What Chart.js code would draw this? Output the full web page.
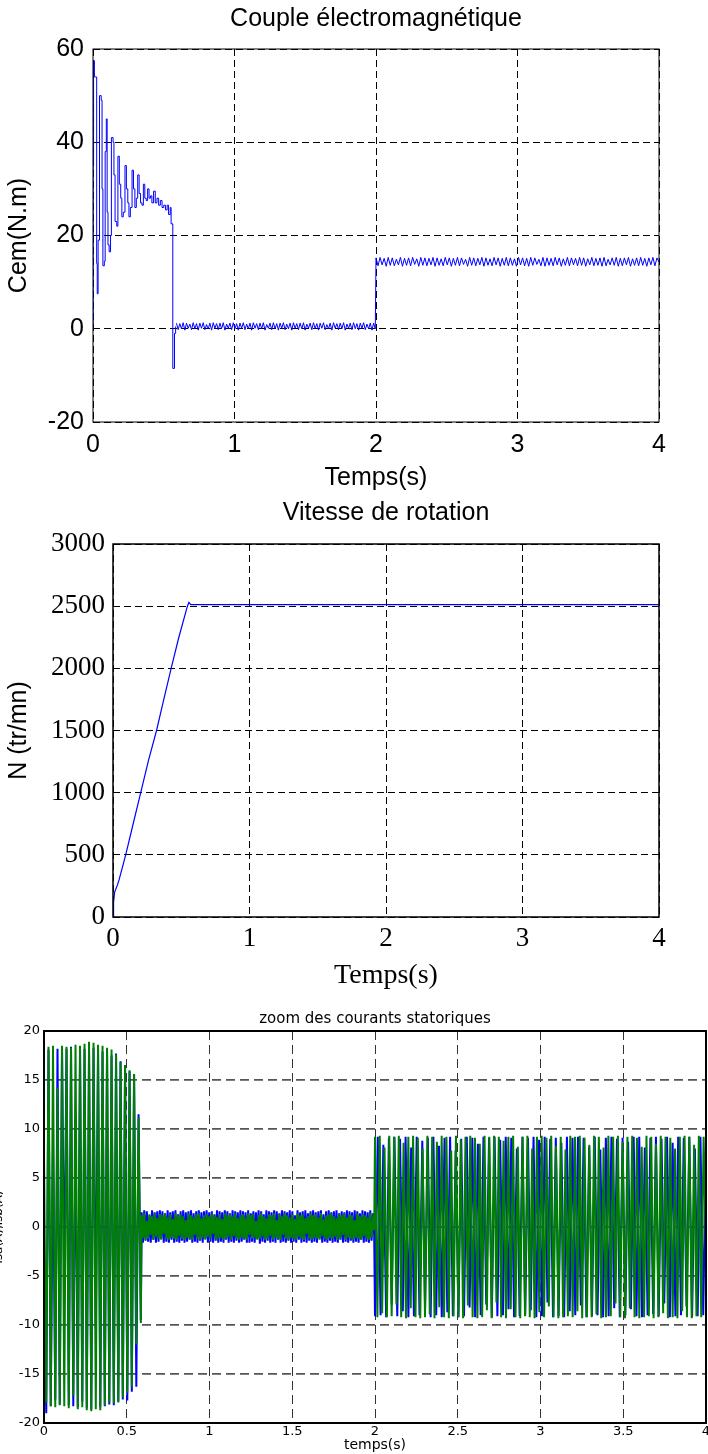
<!DOCTYPE html>
<html>
<head>
<meta charset="utf-8">
<script src="https://cdn.jsdelivr.net/npm/chart.js@4.4.0/dist/chart.umd.min.js"></script>
<style>
  body { margin: 0; background: #fff; width: 708px; height: 1454px; overflow: hidden; position: relative; }
  canvas { position: absolute; left: 0; }
</style>
</head>
<body>
<canvas id="couple" width="708" height="495" style="top:0"></canvas>
<canvas id="vitesse" width="708" height="500" style="top:495px"></canvas>
<canvas id="courants" width="708" height="459" style="top:995px"></canvas>
<script>
// ---- Couple electromagnetique (N.m) ----
const cemTime = [0, 0.001, 0.004, 0.01, 0.026, 0.03, 0.036, 0.046, 0.058, 0.064, 0.07, 0.08, 0.086, 0.094, 0.1, 0.106,
  0.114, 0.124, 0.13, 0.142, 0.148, 0.156, 0.168, 0.176, 0.186, 0.196, 0.204, 0.214, 0.226, 0.236, 0.246, 0.254,
  0.264, 0.276, 0.286, 0.296, 0.306, 0.316, 0.326, 0.336, 0.346, 0.356, 0.366, 0.376, 0.386, 0.396, 0.406, 0.416,
  0.428, 0.44, 0.452, 0.464, 0.476, 0.488, 0.5, 0.512, 0.524, 0.534, 0.546, 0.552, 0.564, 0.576, 0.584];
const cemValue = [0, 35, 57.5, 54, 14, 7.5, 19, 50, 49, 30, 13.5, 14.5, 38, 45, 25, 18,
  16.5, 20, 41, 40, 33, 23, 22, 37, 31, 28, 24, 25, 35, 30, 27, 24,
  26, 34, 30, 26, 28, 33, 29, 27, 26.5, 31, 28, 27.5, 30, 28, 28.5, 27,
  29.5, 27, 28, 26.5, 27.5, 26, 26.5, 25.5, 26.5, 24.5, 26, 22.5, -8.5, -1, 0.5];
// ripple after the speed is reached (0.59 -> 2 s), then with the load (2 -> 4 s)
const cemRipple1 = [1.2, -0.2, 1.1, 0.0, 1.3, -0.3, 1.2, 0.1, 1.0, -0.2, 1.3, 0.0, 1.1, -0.3, 1.2, 0.1, 1.3, -0.2, 0.9, 0.0,
  1.2, -0.3, 1.3, 0.1, 1.1, -0.2, 1.2, 0.0, 1.3, -0.3, 1.0, 0.1, 1.2, -0.2, 1.3, 0.0, 1.1, -0.3, 1.2, 0.1,
  1.3, -0.2, 1.0, 0.0, 1.2, -0.3, 1.3, 0.1, 1.1, -0.2, 1.2, 0.0, 1.3, -0.3, 0.9, 0.1, 1.2, -0.2, 1.3, 0.0,
  1.1, -0.3, 1.2, 0.1, 1.3, -0.2, 1.0, 0.0, 1.2, -0.3, 1.3, 0.1, 1.1, -0.2, 1.2, 0.0, 1.3, -0.3, 1.0, 0.1,
  1.2, -0.2, 1.3, 0.0, 1.1, -0.3, 1.2, 0.1, 1.3, -0.2, 0.9, 0.0, 1.2, -0.3, 1.3, 0.1, 1.1, -0.2, 1.2, 0.0,
  1.3, -0.3, 1.0, 0.1, 1.2, -0.2, 1.3, 0.0, 1.1, -0.3, 1.2, 0.1, 1.3, -0.2, 1.0, 0.0, 1.2, -0.3, 1.2, 0.0];
const cemRipple2 = [15.2, 13.5, 15.3, 13.7, 15.1, 13.4, 15.3, 13.6, 15.2, 13.5, 14.9, 13.7, 15.3, 13.4, 15.1, 13.6, 15.2, 13.5, 15.3, 13.8,
  15.0, 13.4, 15.3, 13.6, 15.2, 13.5, 15.1, 13.7, 15.3, 13.4, 15.2, 13.6, 15.0, 13.5, 15.3, 13.7, 15.2, 13.4, 15.1, 13.6,
  15.3, 13.5, 15.2, 13.8, 14.9, 13.4, 15.3, 13.6, 15.2, 13.5, 15.1, 13.7, 15.3, 13.4, 15.2, 13.6, 15.0, 13.5, 15.3, 13.7,
  15.2, 13.4, 15.1, 13.6, 15.3, 13.5, 15.2, 13.6, 15.0, 13.4, 15.3, 13.7, 15.2, 13.5, 15.1, 13.4, 15.3, 13.6, 15.2, 13.8,
  14.9, 13.5, 15.3, 13.4, 15.2, 13.6, 15.1, 13.5, 15.3, 13.7, 15.2, 13.4, 15.0, 13.6, 15.3, 13.5, 15.2, 13.7, 15.1, 13.5,
  15.3, 13.6, 15.2, 13.4, 15.0, 13.7, 15.3, 13.5, 15.1, 13.6, 15.2, 13.4, 15.3, 13.5, 14.9, 13.7, 15.2, 13.6, 15.3, 13.4,
  15.1, 13.5, 15.2, 13.7, 15.3, 13.4, 15.0, 13.6, 15.2, 13.5, 15.3, 13.6, 15.1, 13.4, 15.2, 13.7, 15.3, 13.5, 15.2, 14.3];
const cemRippleSpan1 = [0.59, 1.995];
const cemRippleSpan2 = [2.0, 4.0];
const cemTicksX = [0, 1, 2, 3, 4];
const cemTicksY = [-20, 0, 20, 40, 60];

// ---- Vitesse de rotation (tr/mn) ----
const speedTime = [0, 0.004, 0.012, 0.03, 0.045, 0.093, 0.15, 0.203, 0.26, 0.319, 0.37, 0.426, 0.48, 0.545, 0.556, 0.57, 4];
const speedValue = [0, 120, 200, 250, 300, 500, 760, 1000, 1260, 1500, 1740, 2000, 2240, 2500, 2530, 2512, 2512];
const speedTicksX = [0, 1, 2, 3, 4];
const speedTicksY = [0, 500, 1000, 1500, 2000, 2500, 3000];

// ---- Courants statoriques (A), three time segments ----
const segSpans = [[0, 0.585], [0.59, 1.995], [2.0, 4.0]];
const isaSegA = [-4, -19, 18.1, -18.3, 7.8, -17.6, 18.2, -18.1, 18.3, -6.4, 18.2, -18.2, 18.4, -18.3, 11.0, -18.4,
  18.3, -17.8, 18.2, -18.5, 17.9, -18.6, 18.3, -10.4, 18.2, -18.4, 17.9, -18.3, 18.2, -18.1, 17.5, -18.2,
  17.7, -17.8, 16.9, -17.6, 16.5, -17.7, 15.9, -16.8, 15.6, -16.3, 11.5, -9.5];
const isaSegB = [1.5, -1.6, 1.7, -1.4, 1.6, -1.5, 1.2, -1.6, 1.7, -1.3, 1.5, -1.6, 1.6, -1.5, 1.7, -1.2, 1.6, -1.6, 1.4, -1.5,
  1.7, -1.6, 1.5, -1.3, 1.6, -1.6, 1.7, -1.5, 1.3, -1.6, 1.6, -1.4, 1.7, -1.6, 1.5, -1.5, 1.6, -1.3, 1.7, -1.6,
  1.4, -1.5, 1.6, -1.6, 1.7, -1.4, 1.5, -1.6, 1.6, -1.2, 1.7, -1.6, 1.5, -1.5, 1.6, -1.6, 1.3, -1.4, 1.7, -1.6,
  1.6, -1.5, 1.5, -1.6, 1.7, -1.3, 1.6, -1.6, 1.4, -1.5, 1.7, -1.6, 1.6, -1.4, 1.5, -1.6, 1.7, -1.5, 1.6, -1.3,
  1.5, -1.6, 1.7, -1.6, 1.4, -1.5, 1.6, -1.6, 1.5, -1.2, 1.7, -1.7, 1.6, -1.5, 1.3, -1.6, 1.7, -1.4, 1.6, -1.6,
  1.5, -1.5, 1.7, -1.6, 1.6, -1.3, 1.4, -1.6, 1.7, -1.5, 1.6, -1.6, 1.5, -1.4, 1.7, -1.6, 1.6, -1.5, 1.2, -1.6,
  1.7, -1.3, 1.5, -1.6, 1.6, -1.5, 1.7, -1.6, 1.4, -1.4, 1.6, -1.6, 1.7, -1.5, 1.5, -1.6, 1.6, -1.2, 1.7, -1.6,
  1.3, -1.5, 1.6, -1.6, 1.7, -1.4, 1.5, -1.6, 1.6, -1.5, 1.7, -1.6, 1.4, -1.3, 1.6, -1.6, 1.5, -1.5, 1.7, -1.6,
  1.6, -1.4, 1.5, -1.6, 1.7, -1.5, 1.6, -1.6, 1.4, -1.3, 1.7, -1.6, 1.6, -1.5, 1.5, -1.6, 1.7, -1.4, 1.4, -0.8];
const isaSegC = [-9.1, 9.2, -9.0, 8.4, -9.2, 9.1, -7.9, 9.2, -9.1, 9.0, -8.6, 9.2, -9.2, 8.1, -9.1, 9.2, -9.0, 8.8, -8.2, 9.1,
  -9.2, 9.2, -9.0, 8.3, -9.2, 9.1, -8.7, 9.2, -9.1, 7.8, -9.2, 9.0, -9.1, 9.2, -8.2, 9.1, -9.2, 8.5, -9.0, 9.2,
  -7.9, 9.1, -9.2, 9.2, -9.1, 8.9, -9.0, 9.2, -8.4, 9.1, -9.2, 8.0, -9.1, 9.2, -9.0, 9.1, -8.5, 9.2, -9.2, 8.9,
  -9.1, 9.2, -7.7, 9.0, -9.2, 9.1, -9.1, 8.6, -9.2, 9.2, -8.6, 9.1, -9.0, 9.2, -8.0, 9.1, -9.2, 8.2, -9.1, 9.2,
  -9.0, 7.9, -9.2, 9.1, -9.1, 9.2, -8.3, 9.0, -9.2, 9.1, -9.0, 8.7, -8.4, 9.2, -9.1, 9.2, -9.2, 8.1, -9.0, 9.1,
  -8.9, 9.2, -9.1, 9.0, -7.8, 9.2, -9.2, 8.6, -9.1, 9.2, -9.0, 9.1, -8.1, 9.2, -9.2, 8.0, -9.1, 9.2, -9.0, 8.4];
const isbSegA = [7.5, -17.9, 18.4, -18.3, 18.5, -18.4, 14.2, -18.2, 18.5, -18.3, 18.4, -18.5, 18.3, -17.2, 18.6, -18.6,
  18.5, -18.4, 18.7, -18.7, 18.9, -18.8, 18.8, -18.6, 18.6, -18.7, 18.5, -18.2, 18.3, -17.9, 18.1, -18.0,
  17.6, -17.9, 16.8, -17.4, 16.5, -16.9, 16.0, -16.3, 15.6, -12.0, 11.2, -9.8];
const isbSegB = [1.2, -1.1, 1.4, -1.3, 0.6, -1.2, 1.3, -0.8, 1.1, -1.3, 1.4, -1.0, 0.9, -1.2, 1.3, -1.3, 1.2, -0.7, 1.4, -1.2,
  1.0, -1.3, 1.3, -1.1, 0.8, -1.2, 1.4, -1.3, 1.2, -0.9, 1.3, -1.2, 1.1, -1.3, 0.7, -1.1, 1.4, -1.2, 1.2, -1.3,
  1.0, -0.8, 1.3, -1.2, 1.4, -1.3, 0.9, -1.1, 1.2, -1.3, 1.3, -1.0, 1.1, -1.2, 1.4, -0.7, 1.2, -1.3, 1.0, -1.2,
  1.3, -1.1, 0.8, -1.3, 1.4, -1.2, 1.2, -1.0, 1.3, -1.3, 1.1, -0.9, 1.4, -1.2, 0.9, -1.3, 1.2, -1.1, 1.3, -1.2,
  1.0, -1.3, 1.4, -0.8, 1.2, -1.2, 1.3, -1.1, 0.6, -1.3, 1.2, -1.2, 1.4, -1.0, 1.1, -1.3, 0.9, -1.2, 1.3, -0.9,
  1.2, -1.3, 1.4, -1.1, 0.7, -1.2, 1.3, -1.3, 1.1, -0.8, 1.4, -1.2, 1.2, -1.3, 1.0, -1.1, 1.3, -1.2, 0.8, -1.3,
  1.4, -1.0, 1.2, -1.2, 1.3, -1.3, 0.9, -0.7, 1.1, -1.2, 1.4, -1.3, 1.2, -1.1, 1.3, -1.2, 1.0, -1.3, 1.4, -0.9,
  0.8, -1.2, 1.2, -1.3, 1.3, -1.1, 1.4, -1.2, 1.1, -1.0, 0.9, -1.3, 1.3, -1.2, 1.2, -0.8, 1.4, -1.3, 1.0, -1.1,
  1.3, -1.2, 1.2, -1.3, 0.7, -1.1, 1.4, -1.2, 1.1, -1.3, 1.3, -0.9, 1.2, -1.2, 1.0, -1.3, 1.4, -1.1, 0.6, -0.3];
const isbSegC = [9.2, -9.2, 9.3, -8.8, 8.1, -9.2, 9.3, -9.1, 9.2, -7.9, 9.3, -9.2, 8.6, -9.3, 9.2, -8.3, 9.3, -9.2, 9.1, -9.3,
  8.0, -9.2, 9.3, -8.9, 9.2, -9.3, 8.7, -8.2, 9.3, -9.2, 9.2, -9.3, 7.8, -9.1, 9.3, -9.2, 8.9, -9.3, 9.2, -8.0,
  9.3, -9.2, 9.1, -9.3, 8.5, -9.2, 9.3, -8.5, 9.2, -9.3, 9.3, -7.7, 9.2, -9.2, 8.8, -9.3, 9.2, -8.4, 9.3, -9.2,
  8.2, -9.3, 9.2, -9.1, 9.3, -9.2, 8.0, -9.3, 9.2, -8.7, 9.3, -9.2, 9.1, -8.1, 9.3, -9.2, 8.3, -9.3, 9.2, -9.2,
  7.9, -9.1, 9.3, -9.2, 9.2, -8.6, 9.3, -9.3, 9.1, -9.2, 8.4, -9.2, 9.3, -8.9, 9.2, -9.3, 8.1, -9.2, 9.3, -9.1,
  9.2, -7.8, 9.3, -9.2, 8.7, -9.3, 9.2, -8.3, 9.3, -9.2, 9.1, -9.3, 8.2, -9.2, 9.3, -9.1, 9.2, -9.3, 8.5, -9.2,
  9.3, -8.8, 9.2, -9.3, 9.1, -9.2, 8.0, -9.3, 9.2, -8.6, 9.3, -9.2, 9.2, -9.3, 8.4, -9.1, 9.3, -9.2, 9.2, -2.1];
const curTicksX = [0, 0.5, 1, 1.5, 2, 2.5, 3, 3.5, 4];
const curTicksY = [-20, -15, -10, -5, 0, 5, 10, 15, 20];

const SANS = '"Liberation Sans", Arial, sans-serif';
const SERIF = '"Liberation Serif", "Times New Roman", serif';
const DEJAVU = '"DejaVu Sans", sans-serif';

// spread a list of samples over a time span
function spread(values, span) {
  const n = values.length;
  return values.map((v, i) => ({ x: span[0] + (span[1] - span[0]) * i / (n - 1), y: v }));
}
function pairs(ts, vs) {
  return ts.map((t, i) => ({ x: t, y: vs[i] }));
}

// black box around the plot area, like matlab
const framePlugin = {
  id: 'frame',
  afterDraw(chart, args, opts) {
    const { ctx, chartArea: a } = chart;
    ctx.save();
    ctx.setLineDash([]);
    ctx.strokeStyle = '#000';
    ctx.lineWidth = opts.width || 1;
    ctx.strokeRect(a.left, a.top, a.right - a.left, a.bottom - a.top);
    ctx.restore();
  }
};

function axis(ticksArr, o) {
  return {
    type: 'linear',
    min: ticksArr[0],
    max: ticksArr[ticksArr.length - 1],
    afterBuildTicks: s => { s.ticks = ticksArr.map(v => ({ value: v })); },
    ticks: { color: '#000', font: o.tickFont, padding: o.tickPad, maxRotation: 0, autoSkip: false,
      callback: v => String(v) },
    grid: { color: o.gridColor || '#000', lineWidth: o.gridWidth || 1, drawTicks: false },
    border: { display: false, dash: o.dash || [7, 4] },
    title: { display: true, text: o.title, color: '#000', font: o.titleFont, padding: o.titlePad },
    afterFit: o.fit
  };
}

function baseOptions(o) {
  return {
    responsive: false,
    animation: false,
    devicePixelRatio: 1,
    layout: { padding: o.padding },
    elements: { point: { radius: 0 } },
    plugins: {
      legend: { display: false },
      tooltip: { enabled: false },
      frame: { width: o.frame },
      title: { display: true, text: o.title, color: '#000', font: o.titleFont, padding: o.titlePad, fullSize: false }
    },
    scales: { x: o.x, y: o.y }
  };
}

// chart 1
const cemRippleData = spread(cemRipple1, cemRippleSpan1).concat(spread(cemRipple2, cemRippleSpan2));

new Chart(document.getElementById('couple'), {
  type: 'line',
  data: {
    datasets: [
      { data: pairs(cemTime, cemValue), borderColor: '#0000ff', borderWidth: 1, stepped: true, fill: false },
      { data: cemRippleData, borderColor: '#0000ff', borderWidth: 1, fill: false }
    ]
  },
  options: baseOptions({
    padding: { left: 0, right: 49, top: 0, bottom: 0 },
    frame: 1,
    title: 'Couple électromagnétique',
    titleFont: { family: SANS, size: 25, weight: 'normal' },
    titlePad: { top: 4, bottom: 15 },
    x: axis(cemTicksX, {
      tickFont: { family: SANS, size: 25 }, tickPad: 8,
      title: 'Temps(s)', titleFont: { family: SANS, size: 25 }, titlePad: { top: 0, bottom: 2 },
      fit: s => { s.height = 73; }
    }),
    y: axis(cemTicksY, {
      tickFont: { family: SANS, size: 25 }, tickPad: 9,
      title: 'Cem(N.m)', titleFont: { family: SANS, size: 25 }, titlePad: { top: 4, bottom: 0 },
      fit: s => { s.width = 93; }
    })
  }),
  plugins: [framePlugin]
});

// chart 2
new Chart(document.getElementById('vitesse'), {
  type: 'line',
  data: { datasets: [{ data: pairs(speedTime, speedValue), borderColor: '#0000ff', borderWidth: 1.2, fill: false }] },
  options: baseOptions({
    padding: { left: 0, right: 49, top: 0, bottom: 0 },
    frame: 1.5,
    title: 'Vitesse de rotation',
    titleFont: { family: SANS, size: 25, weight: 'normal' },
    titlePad: { top: 3, bottom: 16 },
    x: axis(speedTicksX, {
      tickFont: { family: SERIF, size: 27 }, tickPad: 6,
      title: 'Temps(s)', titleFont: { family: SERIF, size: 28 }, titlePad: { top: 0, bottom: 3 },
      fit: s => { s.height = 78; }
    }),
    y: axis(speedTicksY, {
      tickFont: { family: SERIF, size: 27 }, tickPad: 8,
      title: 'N (tr/mn)', titleFont: { family: SANS, size: 25 }, titlePad: { top: 4, bottom: 0 },
      fit: s => { s.width = 113; }
    })
  }),
  plugins: [framePlugin]
});

// chart 3
const isaData = spread(isaSegA, segSpans[0]).concat(spread(isaSegB, segSpans[1]), spread(isaSegC, segSpans[2]));
const isbData = spread(isbSegA, segSpans[0]).concat(spread(isbSegB, segSpans[1]), spread(isbSegC, segSpans[2]));

new Chart(document.getElementById('courants'), {
  type: 'line',
  data: {
    datasets: [
      { data: isbData, borderColor: '#008000', borderWidth: 2, fill: false, order: 1 },
      { data: isaData, borderColor: '#0000ff', borderWidth: 2, fill: false, order: 2 }
    ]
  },
  options: baseOptions({
    padding: { left: 0, right: 2, top: 0, bottom: 0 },
    frame: 2,
    title: 'zoom des courants statoriques',
    titleFont: { family: DEJAVU, size: 15, weight: 'normal' },
    titlePad: { top: 15, bottom: 3 },
    x: axis(curTicksX, {
      tickFont: { family: DEJAVU, size: 13 }, tickPad: 1,
      gridColor: '#333', dash: [9, 5],
      title: 'temps(s)', titleFont: { family: DEJAVU, size: 14 }, titlePad: { top: 0, bottom: 0 },
      fit: s => { s.height = 31; s.paddingLeft = 0; s.paddingRight = 0; }
    }),
    y: axis(curTicksY, {
      tickFont: { family: DEJAVU, size: 13 }, tickPad: 4,
      gridColor: '#555', gridWidth: 1.8, dash: [9, 5],
      title: 'isa(A),isb(A)', titleFont: { family: DEJAVU, size: 12 }, titlePad: { top: -8, bottom: 0 },
      fit: s => { s.width = 44; }
    })
  }),
  plugins: [framePlugin]
});
</script>
</body>
</html>
